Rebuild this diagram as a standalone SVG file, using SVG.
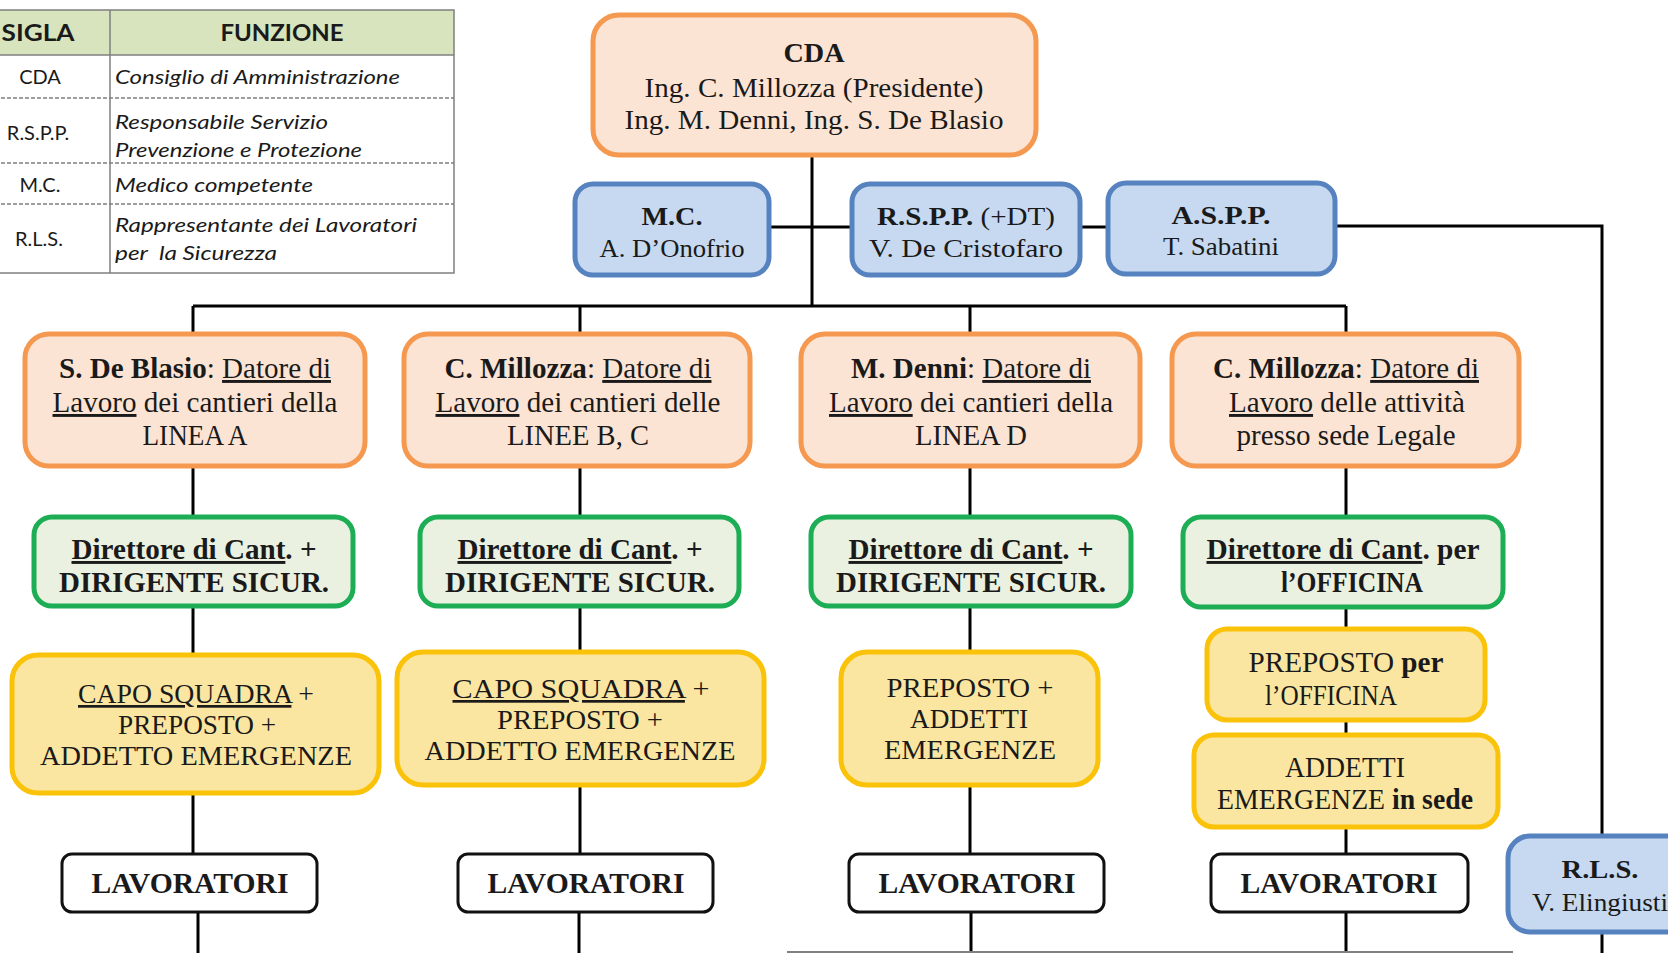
<svg xmlns="http://www.w3.org/2000/svg" width="1668" height="953" viewBox="0 0 1668 953">
<style>
.bg{fill:#ffffff}
.tb{fill:none;stroke:#7f7f7f;stroke-width:1.5}
.dash{stroke:#7f7f7f;stroke-width:1.5;stroke-dasharray:4 2}
.th{font-family:Lato,"Liberation Sans",sans-serif;font-weight:bold;font-size:23px;fill:#1a1a1a}
.ts{font-family:Lato,"Liberation Sans",sans-serif;font-size:20px;fill:#1a1a1a}
.tf{font-family:Lato,"Liberation Sans",sans-serif;font-style:italic;font-size:20px;fill:#1a1a1a}
.or{fill:#FCE4D4;stroke:#F4994F;stroke-width:5}
.bl{fill:#C6D9F0;stroke:#5683BF;stroke-width:5}
.gr{fill:#EBF1E0;stroke:#1DAE55;stroke-width:5}
.ye{fill:#FBE6A1;stroke:#FBC20A;stroke-width:5}
.wh{fill:#ffffff;stroke:#111111;stroke-width:3}
.t{font-family:"Liberation Serif","Times New Roman",serif;font-size:29px;fill:#1a1a1a;text-anchor:middle}
.ty{font-family:"Liberation Serif","Times New Roman",serif;font-size:27px;fill:#1a1a1a;text-anchor:middle}
.tc{font-family:"Liberation Serif","Times New Roman",serif;font-size:28px;fill:#1a1a1a;text-anchor:middle}
.tb2{font-family:"Liberation Serif","Times New Roman",serif;font-size:26px;fill:#1a1a1a;text-anchor:middle}
.b{font-weight:bold}
.u{text-decoration:underline}
.c{stroke:#000;stroke-width:3;fill:none}
</style>
<rect class="bg" x="0" y="0" width="1668" height="953"/>

<g id="legend">
<rect x="-5" y="10" width="459" height="45" fill="#D7E4BD"/>
<rect class="tb" x="-5" y="10" width="459" height="263"/>
<line class="tb" x1="-5" y1="55" x2="454" y2="55"/>
<line class="tb" x1="110" y1="10" x2="110" y2="273"/>
<line class="dash" x1="-5" y1="98" x2="454" y2="98"/>
<line class="dash" x1="-5" y1="163" x2="454" y2="163"/>
<line class="dash" x1="-5" y1="204" x2="454" y2="204"/>
<text class="th" x="38" y="41" text-anchor="middle" textLength="73" lengthAdjust="spacingAndGlyphs">SIGLA</text>
<text class="th" x="282" y="41" text-anchor="middle" textLength="123" lengthAdjust="spacingAndGlyphs">FUNZIONE</text>
<text class="ts" x="40" y="84" text-anchor="middle">CDA</text>
<text class="tf" x="115" y="84" textLength="285" lengthAdjust="spacingAndGlyphs">Consiglio di Amministrazione</text>
<text class="ts" x="38" y="140" text-anchor="middle">R.S.P.P.</text>
<text class="tf" x="115" y="129" textLength="213" lengthAdjust="spacingAndGlyphs">Responsabile Servizio</text>
<text class="tf" x="115" y="157" textLength="247" lengthAdjust="spacingAndGlyphs">Prevenzione e Protezione</text>
<text class="ts" x="40" y="192" text-anchor="middle">M.C.</text>
<text class="tf" x="115" y="192" textLength="198" lengthAdjust="spacingAndGlyphs">Medico competente</text>
<text class="ts" x="39" y="246" text-anchor="middle">R.L.S.</text>
<text class="tf" x="115" y="232" textLength="302" lengthAdjust="spacingAndGlyphs">Rappresentante dei Lavoratori</text>
<text class="tf" x="115" y="260" textLength="162" lengthAdjust="spacingAndGlyphs" xml:space="preserve">per  la Sicurezza</text>
</g>

<g id="connectors">
<line class="c" x1="812" y1="155" x2="812" y2="306"/>
<line class="c" x1="769" y1="227" x2="852" y2="227"/>
<line class="c" x1="1080" y1="227" x2="1108" y2="227"/>
<polyline class="c" points="1335,226 1602,226 1602,836"/>
<line class="c" x1="1602" y1="932" x2="1602" y2="953"/>
<line class="c" x1="193" y1="306" x2="1346" y2="306"/>
<line class="c" x1="193" y1="306" x2="193" y2="333"/>
<line class="c" x1="580" y1="306" x2="580" y2="333"/>
<line class="c" x1="970" y1="306" x2="970" y2="333"/>
<line class="c" x1="1346" y1="306" x2="1346" y2="333"/>
<line class="c" x1="193" y1="466" x2="193" y2="516"/>
<line class="c" x1="580" y1="466" x2="580" y2="516"/>
<line class="c" x1="970" y1="466" x2="970" y2="516"/>
<line class="c" x1="1346" y1="466" x2="1346" y2="516"/>
<line class="c" x1="193" y1="606" x2="193" y2="654"/>
<line class="c" x1="580" y1="606" x2="580" y2="652"/>
<line class="c" x1="970" y1="606" x2="970" y2="652"/>
<line class="c" x1="1346" y1="606" x2="1346" y2="628"/>
<line class="c" x1="1346" y1="720" x2="1346" y2="734"/>
<line class="c" x1="193" y1="793" x2="193" y2="853"/>
<line class="c" x1="580" y1="785" x2="580" y2="853"/>
<line class="c" x1="970" y1="785" x2="970" y2="853"/>
<line class="c" x1="1346" y1="827" x2="1346" y2="853"/>
<line class="c" x1="198" y1="912" x2="198" y2="953"/>
<line class="c" x1="579" y1="912" x2="579" y2="953"/>
<line class="c" x1="971" y1="912" x2="971" y2="953"/>
<line class="c" x1="1346" y1="912" x2="1346" y2="953"/>
<line x1="787" y1="952" x2="1513" y2="952" stroke="#808080" stroke-width="2"/>
</g>

<g id="cda">
<rect class="or" x="593" y="15" width="443" height="140" rx="26"/>
<text class="tc b" x="814" y="62" textLength="61" lengthAdjust="spacingAndGlyphs">CDA</text>
<text class="tc" x="814" y="97" textLength="339" lengthAdjust="spacingAndGlyphs">Ing. C. Millozza (Presidente)</text>
<text class="tc" x="814" y="129" textLength="379" lengthAdjust="spacingAndGlyphs">Ing. M. Denni, Ing. S. De Blasio</text>
</g>

<g id="mc">
<rect class="bl" x="575" y="184" width="194" height="91" rx="18"/>
<text class="tb2 b" x="672" y="225" textLength="61" lengthAdjust="spacingAndGlyphs">M.C.</text>
<text class="tb2" x="672" y="257" textLength="145" lengthAdjust="spacingAndGlyphs">A. D’Onofrio</text>
</g>

<g id="rspp">
<rect class="bl" x="852" y="184" width="228" height="91" rx="18"/>
<text class="tb2" x="966" y="225" textLength="178" lengthAdjust="spacingAndGlyphs"><tspan class="b">R.S.P.P.</tspan> (+DT)</text>
<text class="tb2" x="966" y="257" textLength="194" lengthAdjust="spacingAndGlyphs">V. De Cristofaro</text>
</g>

<g id="aspp">
<rect class="bl" x="1108" y="183" width="227" height="91" rx="18"/>
<text class="tb2 b" x="1221" y="224" textLength="99" lengthAdjust="spacingAndGlyphs">A.S.P.P.</text>
<text class="tb2" x="1221" y="255" textLength="116" lengthAdjust="spacingAndGlyphs">T. Sabatini</text>
</g>

<g id="rls">
<rect class="bl" x="1508" y="836" width="190" height="96" rx="22"/>
<text class="tb2 b" x="1600" y="878" textLength="77" lengthAdjust="spacingAndGlyphs">R.L.S.</text>
<text class="tb2" x="1600" y="911" textLength="136" lengthAdjust="spacingAndGlyphs">V. Elingiusti</text>
</g>

<g id="dl-a">
<rect class="or" x="25" y="334" width="340" height="132" rx="24"/>
<text class="t" x="195" y="378" textLength="272" lengthAdjust="spacingAndGlyphs"><tspan class="b">S. De Blasio</tspan>: <tspan class="u">Datore di</tspan></text>
<text class="t" x="195" y="412" textLength="285" lengthAdjust="spacingAndGlyphs"><tspan class="u">Lavoro</tspan> dei cantieri della</text>
<text class="t" x="195" y="445" textLength="105" lengthAdjust="spacingAndGlyphs">LINEA A</text>
</g>

<g id="dl-bc">
<rect class="or" x="404" y="334" width="346" height="132" rx="24"/>
<text class="t" x="578" y="378" textLength="267" lengthAdjust="spacingAndGlyphs"><tspan class="b">C. Millozza</tspan>: <tspan class="u">Datore di</tspan></text>
<text class="t" x="578" y="412" textLength="285" lengthAdjust="spacingAndGlyphs"><tspan class="u">Lavoro</tspan> dei cantieri delle</text>
<text class="t" x="578" y="445" textLength="142" lengthAdjust="spacingAndGlyphs">LINEE B, C</text>
</g>

<g id="dl-d">
<rect class="or" x="801" y="334" width="339" height="132" rx="24"/>
<text class="t" x="971" y="378" textLength="240" lengthAdjust="spacingAndGlyphs"><tspan class="b">M. Denni</tspan>: <tspan class="u">Datore di</tspan></text>
<text class="t" x="971" y="412" textLength="284" lengthAdjust="spacingAndGlyphs"><tspan class="u">Lavoro</tspan> dei cantieri della</text>
<text class="t" x="971" y="445" textLength="112" lengthAdjust="spacingAndGlyphs">LINEA D</text>
</g>

<g id="dl-sede">
<rect class="or" x="1172" y="334" width="347" height="132" rx="24"/>
<text class="t" x="1346" y="378" textLength="266" lengthAdjust="spacingAndGlyphs"><tspan class="b">C. Millozza</tspan>: <tspan class="u">Datore di</tspan></text>
<text class="t" x="1347" y="412" textLength="236" lengthAdjust="spacingAndGlyphs"><tspan class="u">Lavoro</tspan> delle attività</text>
<text class="t" x="1346" y="445" textLength="219" lengthAdjust="spacingAndGlyphs">presso sede Legale</text>
</g>

<g id="dir-a">
<rect class="gr" x="34" y="517" width="319" height="89" rx="18"/>
<text class="t b" x="194" y="559" textLength="245" lengthAdjust="spacingAndGlyphs"><tspan class="u">Direttore di Cant</tspan>. +</text>
<text class="t b" x="194" y="592" textLength="270" lengthAdjust="spacingAndGlyphs">DIRIGENTE SICUR.</text>
</g>

<g id="dir-bc">
<rect class="gr" x="420" y="517" width="319" height="89" rx="18"/>
<text class="t b" x="580" y="559" textLength="245" lengthAdjust="spacingAndGlyphs"><tspan class="u">Direttore di Cant</tspan>. +</text>
<text class="t b" x="580" y="592" textLength="270" lengthAdjust="spacingAndGlyphs">DIRIGENTE SICUR.</text>
</g>

<g id="dir-d">
<rect class="gr" x="811" y="517" width="320" height="89" rx="18"/>
<text class="t b" x="971" y="559" textLength="245" lengthAdjust="spacingAndGlyphs"><tspan class="u">Direttore di Cant</tspan>. +</text>
<text class="t b" x="971" y="592" textLength="270" lengthAdjust="spacingAndGlyphs">DIRIGENTE SICUR.</text>
</g>

<g id="dir-off">
<rect class="gr" x="1183" y="517" width="320" height="90" rx="18"/>
<text class="t b" x="1343" y="559" textLength="273" lengthAdjust="spacingAndGlyphs"><tspan class="u">Direttore di Cant</tspan>. per</text>
<text class="t b" x="1352" y="592" textLength="142" lengthAdjust="spacingAndGlyphs">l’OFFICINA</text>
</g>

<g id="cs-a">
<rect class="ye" x="12" y="655" width="367" height="138" rx="26"/>
<text class="ty" x="196" y="703" textLength="236" lengthAdjust="spacingAndGlyphs"><tspan class="u">CAPO SQUADRA</tspan> +</text>
<text class="ty" x="197" y="734" textLength="158" lengthAdjust="spacingAndGlyphs">PREPOSTO +</text>
<text class="ty" x="196" y="765" textLength="312" lengthAdjust="spacingAndGlyphs">ADDETTO EMERGENZE</text>
</g>

<g id="cs-bc">
<rect class="ye" x="397" y="652" width="367" height="133" rx="26"/>
<text class="ty" x="581" y="698" textLength="257" lengthAdjust="spacingAndGlyphs"><tspan class="u">CAPO SQUADRA</tspan> +</text>
<text class="ty" x="580" y="729" textLength="166" lengthAdjust="spacingAndGlyphs">PREPOSTO +</text>
<text class="ty" x="580" y="760" textLength="311" lengthAdjust="spacingAndGlyphs">ADDETTO EMERGENZE</text>
</g>

<g id="pre-d">
<rect class="ye" x="841" y="652" width="257" height="133" rx="26"/>
<text class="ty" x="970" y="697" textLength="167" lengthAdjust="spacingAndGlyphs">PREPOSTO +</text>
<text class="ty" x="969" y="728" textLength="118" lengthAdjust="spacingAndGlyphs">ADDETTI</text>
<text class="ty" x="970" y="759" textLength="172" lengthAdjust="spacingAndGlyphs">EMERGENZE</text>
</g>

<g id="pre-off">
<rect class="ye" x="1207" y="629" width="278" height="91" rx="20"/>
<text class="t" x="1346" y="672" textLength="195" lengthAdjust="spacingAndGlyphs">PREPOSTO <tspan class="b">per</tspan></text>
<text class="t" x="1331" y="705" textLength="132" lengthAdjust="spacingAndGlyphs">l’OFFICINA</text>
</g>

<g id="add-sede">
<rect class="ye" x="1194" y="735" width="304" height="92" rx="20"/>
<text class="t" x="1345" y="777" textLength="120" lengthAdjust="spacingAndGlyphs">ADDETTI</text>
<text class="t" x="1345" y="809" textLength="256" lengthAdjust="spacingAndGlyphs">EMERGENZE <tspan class="b">in sede</tspan></text>
</g>

<g id="lav-a">
<rect class="wh" x="62" y="854" width="255" height="58" rx="10"/>
<text class="t b" x="190" y="893" textLength="197" lengthAdjust="spacingAndGlyphs">LAVORATORI</text>
</g>
<g id="lav-bc">
<rect class="wh" x="458" y="854" width="255" height="58" rx="10"/>
<text class="t b" x="586" y="893" textLength="197" lengthAdjust="spacingAndGlyphs">LAVORATORI</text>
</g>
<g id="lav-d">
<rect class="wh" x="849" y="854" width="255" height="58" rx="10"/>
<text class="t b" x="977" y="893" textLength="197" lengthAdjust="spacingAndGlyphs">LAVORATORI</text>
</g>
<g id="lav-sede">
<rect class="wh" x="1211" y="854" width="257" height="58" rx="10"/>
<text class="t b" x="1339" y="893" textLength="197" lengthAdjust="spacingAndGlyphs">LAVORATORI</text>
</g>
</svg>
